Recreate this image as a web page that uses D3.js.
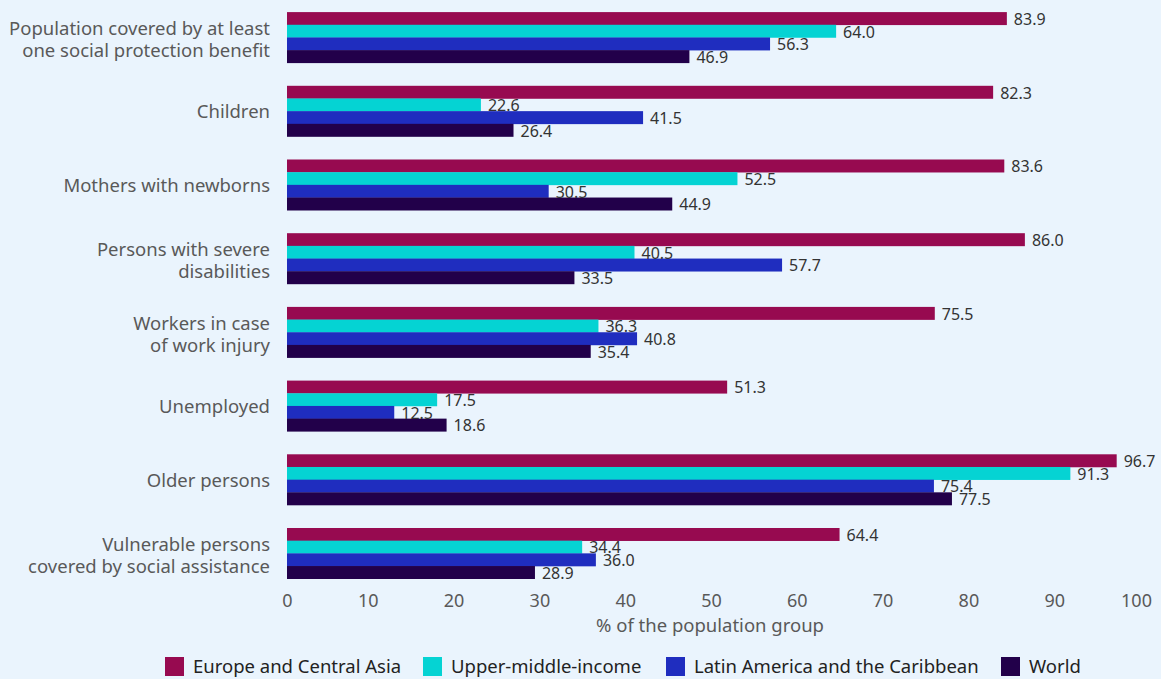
<!DOCTYPE html>
<html>
<head>
<meta charset="utf-8">
<script src="https://cdn.jsdelivr.net/npm/d3@7"></script>
<style>
  html, body { margin: 0; padding: 0; background: #eaf4fd; }
  svg { display: block; font-family: "Noto Sans", "Open Sans", sans-serif; }
</style>
</head>
<body>
<svg id="chart" width="1161" height="679"></svg>
<script>
// Social protection coverage by population group (%)
const categories = [
  ["Population covered by at least", "one social protection benefit"],
  ["Children"],
  ["Mothers with newborns"],
  ["Persons with severe", "disabilities"],
  ["Workers in case", "of work injury"],
  ["Unemployed"],
  ["Older persons"],
  ["Vulnerable persons", "covered by social assistance"]
];
const seriesNames = ["Europe and Central Asia", "Upper-middle-income", "Latin America and the Caribbean", "World"];
const seriesColors = ["#970a50", "#05d3d3", "#1f2dbf", "#22004a"];
const europeCentralAsia = [83.9, 82.3, 83.6, 86.0, 75.5, 51.3, 96.7, 64.4];
const upperMiddleIncome = [64.0, 22.6, 52.5, 40.5, 36.3, 17.5, 91.3, 34.4];
const latinAmerica      = [56.3, 41.5, 30.5, 57.7, 40.8, 12.5, 75.4, 36.0];
const world             = [46.9, 26.4, 44.9, 33.5, 35.4, 18.6, 77.5, 28.9];
const xTicks = [0, 10, 20, 30, 40, 50, 60, 70, 80, 90, 100];

const seriesValues = [europeCentralAsia, upperMiddleIncome, latinAmerica, world];

const svg = d3.select("#chart");

const x = d3.scaleLinear().domain([0, 100]).range([287, 1145]);
const y = d3.scaleBand()
  .domain(d3.range(categories.length))
  .range([0.6, 590.2])
  .paddingInner(0.312)
  .paddingOuter(0.156);
const ySub = d3.scaleBand()
  .domain(d3.range(seriesNames.length))
  .range([0, y.bandwidth()]);

// bars and value labels
const groups = svg.append("g").selectAll("g")
  .data(categories.map((c, i) => i))
  .join("g")
  .attr("transform", i => `translate(0,${y(i)})`);

groups.each(function(ci) {
  const g = d3.select(this);
  const rows = seriesValues.map((vals, si) => ({ si, v: vals[ci] }));
  g.selectAll("rect")
    .data(rows)
    .join("rect")
    .attr("x", x(0))
    .attr("y", d => ySub(d.si))
    .attr("width", d => x(d.v) - x(0))
    .attr("height", ySub.bandwidth() + 0.3)
    .attr("fill", d => seriesColors[d.si]);
  g.selectAll("text.val")
    .data(rows)
    .join("text")
    .attr("class", "val")
    .attr("x", d => x(d.v) + 7)
    .attr("y", d => ySub(d.si) + ySub.bandwidth() / 2 + 6.5)
    .attr("font-size", 16)
    .attr("fill", "#333")
    .text(d => d.v.toFixed(1));
});

// category labels
const catLabels = svg.append("g").selectAll("text")
  .data(categories)
  .join("text")
  .attr("text-anchor", "end")
  .attr("font-size", 18.5)
  .attr("fill", "#595959")
  .attr("x", 270)
  .attr("y", (c, i) => y(i) + y.bandwidth() / 2 + 7 + (c.length > 1 ? 1.5 : 0));
catLabels.each(function(lines) {
  const t = d3.select(this);
  const lh = 22.5;
  lines.forEach((ln, k) => {
    t.append("tspan")
      .attr("x", 270)
      .attr("dy", k === 0 ? -(lines.length - 1) * lh / 2 : lh)
      .text(ln);
  });
});

// x axis (labels only, kept inside the plot at both ends)
const axis = svg.append("g")
  .attr("transform", "translate(0,592)")
  .call(d3.axisBottom(x).tickValues(xTicks).tickSize(0).tickPadding(0));
axis.select(".domain").remove();
axis.selectAll(".tick text")
  .attr("font-size", 18)
  .attr("font-family", "Noto Sans, Open Sans, sans-serif")
  .attr("fill", "#595959")
  .attr("dy", "0.85em")
  .attr("dx", d => Math.min(Math.max(x(d) - 5, x(0)), 1136) - x(d));

svg.append("text")
  .attr("x", 710)
  .attr("y", 632)
  .attr("text-anchor", "middle")
  .attr("font-size", 18.5)
  .attr("fill", "#595959")
  .text("% of the population group");

// legend
const legendX = [165, 423, 666, 1001];
const legend = svg.append("g").selectAll("g")
  .data(seriesNames)
  .join("g")
  .attr("transform", (d, i) => `translate(${legendX[i]},657)`);
legend.append("rect")
  .attr("width", 19)
  .attr("height", 19)
  .attr("fill", (d, i) => seriesColors[i]);
legend.append("text")
  .attr("x", 28)
  .attr("y", 16)
  .attr("font-size", 18.5)
  .attr("fill", "#222")
  .text(d => d);
</script>
</body>
</html>
